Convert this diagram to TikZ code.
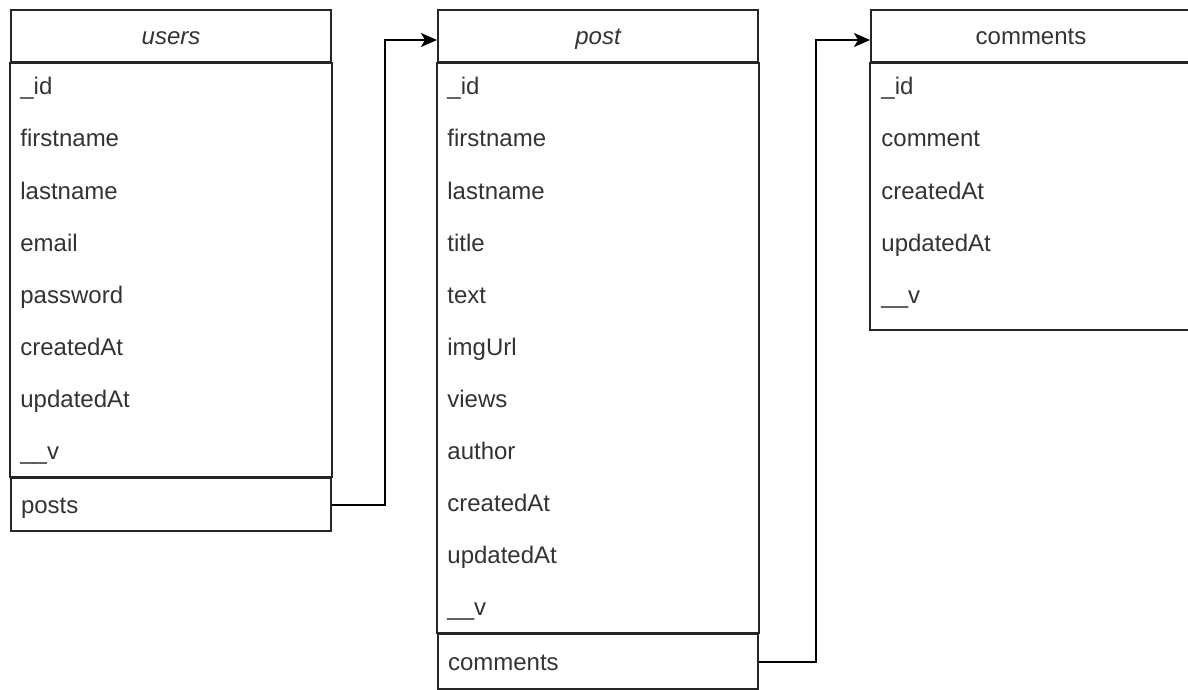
\documentclass[tikz,border=0pt]{standalone}
\usepackage{fontspec}
\setmainfont{Liberation Sans}
\usetikzlibrary{arrows.meta}

\tikzset{
  tablehead/.style={draw=black!85, line width=1pt, anchor=north west, minimum width=160pt,
    minimum height=26pt, inner sep=0pt, text height=10pt, text depth=1.5pt, text=black!80,
    font=\fontsize{12pt}{14pt}\selectfont},
  tablebody/.style={draw=black!85, line width=1pt},
  fieldname/.style={anchor=base west, inner sep=0pt, text=black!80, font=\fontsize{12pt}{14pt}\selectfont},
  linkrow/.style={draw=black!85, line width=1pt, anchor=north west, minimum width=160pt,
    minimum height=26.5pt, text width=150pt, inner xsep=5pt, inner ysep=0pt, align=left,
    text height=10pt, text depth=1.5pt, text=black!80, font=\fontsize{12pt}{14pt}\selectfont},
  reference/.style={draw=black, line width=1pt, -{Stealth[length=8pt,width=7pt,inset=2pt]}},
}

\begin{document}
\begin{tikzpicture}[x=0.5pt, y=-0.5pt]
\useasboundingbox (0,0) rectangle (1188,690);

% users
\node[tablehead] (usershead) at (10,9) {\itshape users};
\foreach \field [count=\i] in {\_id, firstname, lastname, email, password, createdAt, updatedAt, \_\_v}
  \node[fieldname] (users-\i) at (20,{43+52*\i}) {\field};
\node[linkrow] (usersposts) at (10,477) {posts};
\draw[tablebody] (usershead.south west) rectangle (usersposts.north east);

% post
\node[tablehead] (posthead) at (437,9) {\itshape post};
\foreach \field [count=\i] in {\_id, firstname, lastname, title, text, imgUrl, views, author, createdAt, updatedAt, \_\_v}
  \node[fieldname] (post-\i) at (447,{43+52*\i}) {\field};
\node[linkrow, minimum height=27.5pt] (postcomments) at (437,633) {comments};
\draw[tablebody] (posthead.south west) rectangle (postcomments.north east);

% comments
\node[tablehead] (commentshead) at (870,9) {comments};
\foreach \field [count=\i] in {\_id, comment, createdAt, updatedAt, \_\_v}
  \node[fieldname] (comments-\i) at (881,{43+52*\i}) {\field};
\draw[tablebody] (commentshead.south west) rectangle (1190,330);

% references
\draw[reference] (usersposts.east) -- ++(53,0) |- ([yshift=-2pt]posthead.west);
\draw[reference] (postcomments.east) -- ++(57,0) |- ([yshift=-2pt]commentshead.west);
\end{tikzpicture}
\end{document}
